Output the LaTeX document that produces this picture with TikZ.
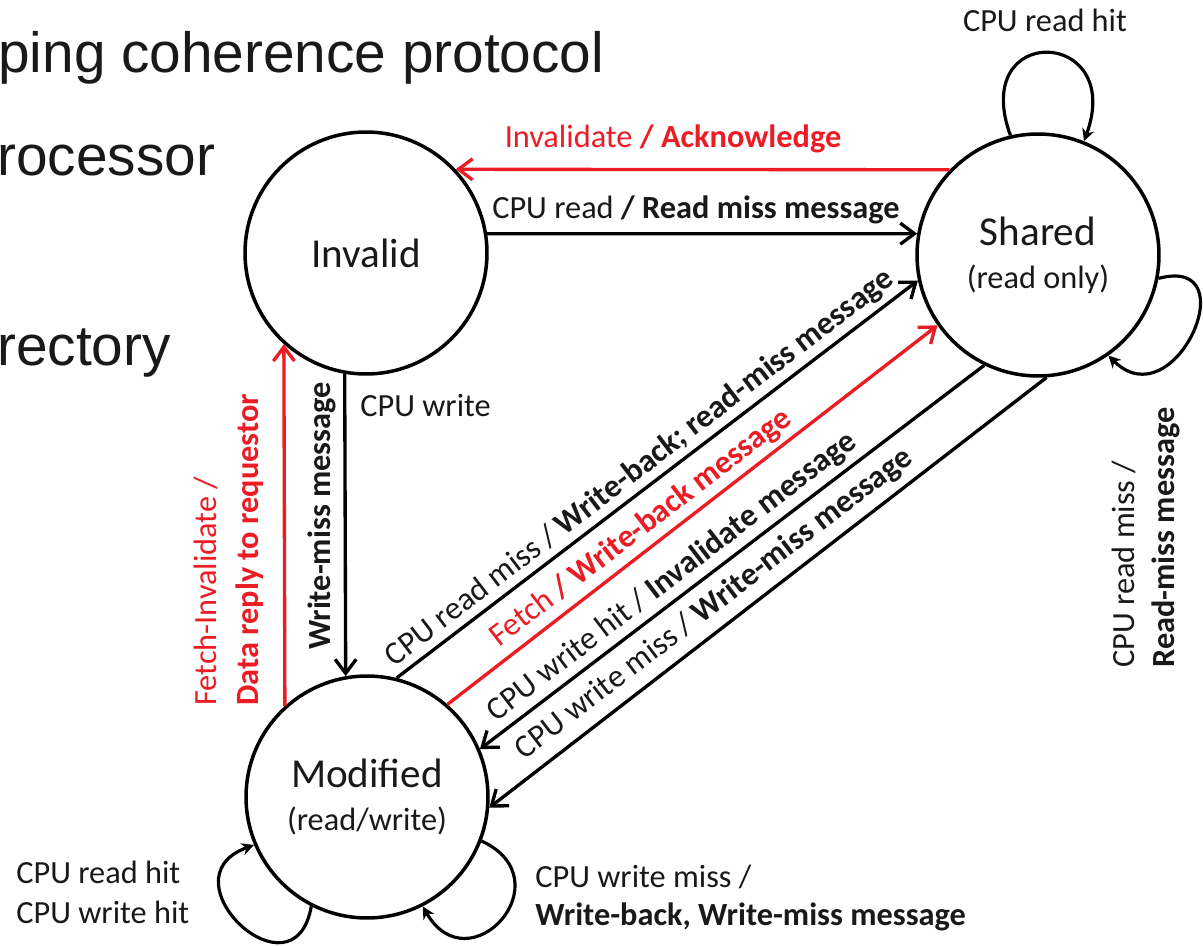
\documentclass[tikz,border=0pt]{standalone}
\usepackage{fontspec}
\setmainfont{Carlito}
\newfontfamily\arialf{Liberation Sans}
\usetikzlibrary{arrows.meta}
\definecolor{myred}{RGB}{236,28,36}
\definecolor{ink}{RGB}{25,25,25}
\begin{document}
\begin{tikzpicture}[x=0.02cm,y=-0.02cm,
  state/.style={circle,draw=black,line width=2pt,minimum size=4.84cm,inner sep=0pt,align=center,text=ink,font=\fontsize{18.4}{24.4}\selectfont},
  conn/.style={draw=black,line width=1.9pt,-{Straight Barb[length=8pt,width=12pt]}},
  rconn/.style={conn,draw=myred},
  loopc/.style={draw=black,line width=1.8pt,-{Stealth[length=7pt,width=7pt]}},
  lbl/.style={font=\fontsize{18.4}{22.7}\selectfont,inner sep=0pt,text=ink},
  rlbl/.style={lbl,text=myred},
  ttl/.style={font=\arialf\fontsize{32.3}{38}\selectfont,inner sep=0pt,anchor=base west,text=ink},
]
\path[use as bounding box,fill=white] (0,0) rectangle (1203,946);

% partial title lines
\node[ttl] (t1) at (-2,72) {ping coherence protocol};
\node[ttl] (t2) at (-3,175) {rocessor};
\node[ttl] (t3) at (-3,365) {rectory};

% states
\node[state] (I) at (366,253) {{\fontsize{23.4}{24.4}\selectfont Invalid}};
\node[state] (S) at (1038,255) {{\fontsize{23.4}{24.4}\selectfont Shared}\\(read only)};
\node[state] (M) at (367,797) {{\fontsize{23.4}{24.4}\selectfont Modified}\\(read/write)};

% transitions
\draw[rconn] (S.136) -- (I.43);
\draw[conn] (I.9) -- (S.170);
\draw[conn] (I.260) -- (M.100);
\draw[rconn] (M.132) -- (I.228);
\draw[conn] (M.76) -- (S.192);
\draw[rconn] (M.49) -- (S.215);
\draw[conn] (S.244) -- (M.23);
\draw[conn] (S.274) -- (M.-5);

% self loops
\draw[loopc] (S.103) to[out=110,in=70,looseness=4.2] (S.68);
\draw[loopc] (S.-11) to[out=15,in=-45,looseness=2.6] (S.-55);
\draw[loopc] (M.243) to[out=-100,in=200,looseness=3] (M.203);
\draw[loopc] (M.-21) to[out=-25,in=-60,looseness=2.7] (M.-63);

% labels
\node[rlbl,anchor=base] (lInv) at (673,148) {Invalidate \textbf{/ Acknowledge}};
\node[lbl,anchor=base] (lRd) at (696,218) {CPU read \textbf{/ Read miss message}};
\node[lbl,anchor=base west] (lWr) at (360,416) {CPU write};
\node[lbl,anchor=base,rotate=90] (lWm) at (330,516) {\textbf{Write-miss message}};
\node[rlbl,anchor=base west,rotate=90] (lFi) at (216,706) {Fetch-Invalidate /};
\node[rlbl,anchor=base west,rotate=90] (lDr) at (258,706) {\textbf{Data reply to requestor}};

\node[lbl,anchor=base] (lSh) at (1045,32) {CPU read hit};
\node[lbl,anchor=base west,rotate=90] (lSm1) at (1134,668) {CPU read miss /};
\node[lbl,anchor=base west,rotate=90] (lSm2) at (1174,668) {\textbf{Read-miss message}};
\node[lbl,anchor=base west] (lMh1) at (16,883) {CPU read hit};
\node[lbl,anchor=base west] (lMh2) at (16,923) {CPU write hit};
\node[lbl,anchor=base west] (lMw1) at (535,887) {CPU write miss /};
\node[lbl,anchor=base west] (lMw2) at (535,925) {\textbf{Write-back, Write-miss message}};

\node[lbl,rotate=37.5] (d1) at (640,468) {CPU read miss / \textbf{Write-back; read-miss message}};
\node[rlbl,rotate=37.5] (d2) at (641,528) {Fetch \textbf{/ Write-back message}};
\node[lbl,rotate=37.5] (d3) at (672,577) {CPU write hit / \textbf{Invalidate message}};
\node[lbl,rotate=37.5] (d4) at (714,604) {CPU write miss / \textbf{Write-miss message}};
\end{tikzpicture}
\end{document}
